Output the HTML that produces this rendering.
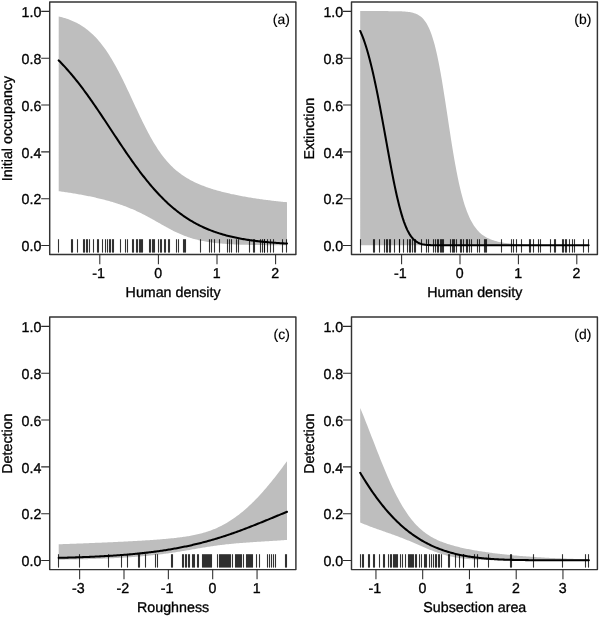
<!DOCTYPE html>
<html><head><meta charset="utf-8"><title>Figure</title>
<style>
html,body{margin:0;padding:0;background:#fff;}
svg{display:block;}
text{font-family:"Liberation Sans",Arial,Helvetica,sans-serif;fill:#000;stroke:#000;stroke-width:0.32px;text-rendering:geometricPrecision;}
svg{will-change:transform;}
</style></head>
<body>
<svg width="600" height="617" viewBox="0 0 600 617">
<rect width="600" height="617" fill="#fff"/>
<path d="M58.70 16.41 L59.85 16.69 L60.99 16.99 L62.14 17.30 L63.29 17.63 L64.44 17.97 L65.58 18.33 L66.73 18.71 L67.88 19.11 L69.03 19.53 L70.17 19.96 L71.32 20.43 L72.47 20.91 L73.61 21.42 L74.76 21.95 L75.91 22.51 L77.06 23.09 L78.20 23.71 L79.35 24.35 L80.50 25.02 L81.64 25.73 L82.79 26.47 L83.94 27.24 L85.09 28.05 L86.23 28.89 L87.38 29.77 L88.53 30.69 L89.68 31.65 L90.82 32.65 L91.97 33.69 L93.12 34.78 L94.26 35.91 L95.41 37.09 L96.56 38.31 L97.71 39.58 L98.85 40.90 L100.00 42.27 L101.15 43.69 L102.29 45.16 L103.44 46.68 L104.59 48.25 L105.74 49.87 L106.88 51.55 L108.03 53.27 L109.18 55.05 L110.33 56.88 L111.47 58.76 L112.62 60.69 L113.77 62.67 L114.91 64.70 L116.06 66.78 L117.21 68.90 L118.36 71.06 L119.50 73.26 L120.65 75.51 L121.80 77.79 L122.95 80.10 L124.09 82.45 L125.24 84.82 L126.39 87.22 L127.53 89.64 L128.68 92.08 L129.83 94.53 L130.98 97.00 L132.12 99.47 L133.27 101.94 L134.42 104.42 L135.56 106.89 L136.71 109.35 L137.86 111.80 L139.01 114.24 L140.15 116.65 L141.30 119.04 L142.45 121.40 L143.60 123.74 L144.74 126.04 L145.89 128.30 L147.04 130.52 L148.18 132.70 L149.33 134.84 L150.48 136.93 L151.63 138.97 L152.77 140.96 L153.92 142.90 L155.07 144.79 L156.22 146.62 L157.36 148.40 L158.51 150.13 L159.66 151.80 L160.80 153.42 L161.95 154.99 L163.10 156.50 L164.25 157.96 L165.39 159.37 L166.54 160.73 L167.69 162.04 L168.83 163.30 L169.98 164.51 L171.13 165.68 L172.28 166.81 L173.42 167.90 L174.57 168.94 L175.72 169.95 L176.87 170.92 L178.01 171.85 L179.16 172.75 L180.31 173.61 L181.45 174.44 L182.60 175.25 L183.75 176.02 L184.90 176.77 L186.04 177.49 L187.19 178.18 L188.34 178.86 L189.48 179.51 L190.63 180.13 L191.78 180.74 L192.93 181.33 L194.07 181.90 L195.22 182.45 L196.37 182.98 L197.52 183.50 L198.66 184.00 L199.81 184.49 L200.96 184.96 L202.10 185.42 L203.25 185.87 L204.40 186.31 L205.55 186.73 L206.69 187.14 L207.84 187.54 L208.99 187.93 L210.14 188.32 L211.28 188.69 L212.43 189.05 L213.58 189.40 L214.72 189.75 L215.87 190.09 L217.02 190.42 L218.17 190.74 L219.31 191.06 L220.46 191.37 L221.61 191.67 L222.75 191.96 L223.90 192.25 L225.05 192.54 L226.20 192.82 L227.34 193.09 L228.49 193.36 L229.64 193.62 L230.79 193.88 L231.93 194.13 L233.08 194.37 L234.23 194.62 L235.37 194.86 L236.52 195.09 L237.67 195.32 L238.82 195.54 L239.96 195.77 L241.11 195.98 L242.26 196.20 L243.41 196.41 L244.55 196.61 L245.70 196.82 L246.85 197.02 L247.99 197.21 L249.14 197.41 L250.29 197.59 L251.44 197.78 L252.58 197.96 L253.73 198.14 L254.88 198.32 L256.02 198.49 L257.17 198.67 L258.32 198.83 L259.47 199.00 L260.61 199.16 L261.76 199.32 L262.91 199.48 L264.06 199.63 L265.20 199.79 L266.35 199.93 L267.50 200.08 L268.64 200.23 L269.79 200.37 L270.94 200.51 L272.09 200.64 L273.23 200.78 L274.38 200.91 L275.53 201.04 L276.67 201.17 L277.82 201.29 L278.97 201.41 L280.12 201.53 L281.26 201.65 L282.41 201.77 L283.56 201.88 L284.71 201.99 L285.85 202.10 L287.00 202.21 L287.00 245.25 L285.85 245.24 L284.71 245.24 L283.56 245.24 L282.41 245.23 L281.26 245.23 L280.12 245.22 L278.97 245.22 L277.82 245.21 L276.67 245.21 L275.53 245.20 L274.38 245.19 L273.23 245.19 L272.09 245.18 L270.94 245.17 L269.79 245.16 L268.64 245.15 L267.50 245.14 L266.35 245.13 L265.20 245.12 L264.06 245.11 L262.91 245.10 L261.76 245.09 L260.61 245.07 L259.47 245.06 L258.32 245.04 L257.17 245.03 L256.02 245.01 L254.88 244.99 L253.73 244.97 L252.58 244.95 L251.44 244.93 L250.29 244.91 L249.14 244.88 L247.99 244.86 L246.85 244.83 L245.70 244.80 L244.55 244.77 L243.41 244.74 L242.26 244.70 L241.11 244.66 L239.96 244.63 L238.82 244.58 L237.67 244.54 L236.52 244.49 L235.37 244.44 L234.23 244.39 L233.08 244.34 L231.93 244.28 L230.79 244.22 L229.64 244.15 L228.49 244.08 L227.34 244.01 L226.20 243.93 L225.05 243.85 L223.90 243.76 L222.75 243.67 L221.61 243.58 L220.46 243.47 L219.31 243.37 L218.17 243.25 L217.02 243.14 L215.87 243.01 L214.72 242.88 L213.58 242.74 L212.43 242.59 L211.28 242.44 L210.14 242.27 L208.99 242.10 L207.84 241.92 L206.69 241.73 L205.55 241.54 L204.40 241.33 L203.25 241.11 L202.10 240.88 L200.96 240.64 L199.81 240.39 L198.66 240.13 L197.52 239.85 L196.37 239.57 L195.22 239.27 L194.07 238.95 L192.93 238.63 L191.78 238.29 L190.63 237.93 L189.48 237.56 L188.34 237.18 L187.19 236.78 L186.04 236.37 L184.90 235.94 L183.75 235.50 L182.60 235.04 L181.45 234.57 L180.31 234.09 L179.16 233.59 L178.01 233.07 L176.87 232.54 L175.72 232.00 L174.57 231.44 L173.42 230.88 L172.28 230.30 L171.13 229.70 L169.98 229.10 L168.83 228.49 L167.69 227.87 L166.54 227.24 L165.39 226.60 L164.25 225.96 L163.10 225.31 L161.95 224.66 L160.80 224.01 L159.66 223.35 L158.51 222.69 L157.36 222.04 L156.22 221.38 L155.07 220.73 L153.92 220.08 L152.77 219.43 L151.63 218.79 L150.48 218.15 L149.33 217.52 L148.18 216.90 L147.04 216.28 L145.89 215.67 L144.74 215.07 L143.60 214.48 L142.45 213.90 L141.30 213.33 L140.15 212.77 L139.01 212.22 L137.86 211.67 L136.71 211.14 L135.56 210.62 L134.42 210.11 L133.27 209.60 L132.12 209.11 L130.98 208.63 L129.83 208.16 L128.68 207.69 L127.53 207.24 L126.39 206.79 L125.24 206.36 L124.09 205.93 L122.95 205.51 L121.80 205.10 L120.65 204.70 L119.50 204.31 L118.36 203.92 L117.21 203.55 L116.06 203.18 L114.91 202.82 L113.77 202.46 L112.62 202.11 L111.47 201.77 L110.33 201.44 L109.18 201.11 L108.03 200.79 L106.88 200.47 L105.74 200.16 L104.59 199.86 L103.44 199.56 L102.29 199.26 L101.15 198.98 L100.00 198.69 L98.85 198.42 L97.71 198.15 L96.56 197.88 L95.41 197.62 L94.26 197.36 L93.12 197.10 L91.97 196.86 L90.82 196.61 L89.68 196.37 L88.53 196.13 L87.38 195.90 L86.23 195.67 L85.09 195.45 L83.94 195.23 L82.79 195.01 L81.64 194.80 L80.50 194.59 L79.35 194.38 L78.20 194.18 L77.06 193.98 L75.91 193.78 L74.76 193.59 L73.61 193.40 L72.47 193.21 L71.32 193.03 L70.17 192.84 L69.03 192.67 L67.88 192.49 L66.73 192.32 L65.58 192.15 L64.44 191.98 L63.29 191.82 L62.14 191.65 L60.99 191.49 L59.85 191.34 L58.70 191.18 Z" fill="#bebebe"/>
<g fill="none" stroke="#000" stroke-opacity="0.8" stroke-width="1.1"><path d="M58.5 239.2V252.6"/><path d="M71.5 239.2V252.6"/><path d="M72.5 239.2V252.6"/><path d="M77.5 239.2V252.6"/><path d="M83.5 239.2V252.6"/><path d="M84.5 239.2V252.6"/><path d="M86.5 239.2V252.6"/><path d="M87.5 239.2V252.6"/><path d="M89.5 239.2V252.6"/><path d="M93.5 239.2V252.6"/><path d="M97.5 239.2V252.6"/><path d="M98.5 239.2V252.6"/><path d="M102.5 239.2V252.6"/><path d="M105.5 239.2V252.6"/><path d="M107.5 239.2V252.6"/><path d="M109.5 239.2V252.6"/><path d="M110.5 239.2V252.6"/><path d="M112.5 239.2V252.6"/><path d="M113.5 239.2V252.6"/><path d="M120.5 239.2V252.6"/><path d="M125.5 239.2V252.6"/><path d="M127.5 239.2V252.6"/><path d="M132.5 239.2V252.6"/><path d="M133.5 239.2V252.6"/><path d="M136.5 239.2V252.6"/><path d="M137.5 239.2V252.6"/><path d="M139.5 239.2V252.6"/><path d="M140.5 239.2V252.6"/><path d="M141.5 239.2V252.6"/><path d="M142.5 239.2V252.6"/><path d="M149.5 239.2V252.6"/><path d="M150.5 239.2V252.6"/><path d="M152.5 239.2V252.6"/><path d="M153.5 239.2V252.6"/><path d="M154.5 239.2V252.6"/><path d="M158.5 239.2V252.6"/><path d="M160.5 239.2V252.6"/><path d="M161.5 239.2V252.6"/><path d="M164.5 239.2V252.6"/><path d="M165.5 239.2V252.6"/><path d="M168.5 239.2V252.6"/><path d="M169.5 239.2V252.6"/><path d="M176.5 239.2V252.6"/><path d="M178.5 239.2V252.6"/><path d="M183.5 239.2V252.6"/><path d="M184.5 239.2V252.6"/><path d="M185.5 239.2V252.6"/><path d="M200.5 239.2V252.6"/><path d="M209.5 239.2V252.6"/><path d="M211.5 239.2V252.6"/><path d="M214.5 239.2V252.6"/><path d="M219.5 239.2V252.6"/><path d="M227.5 239.2V252.6"/><path d="M229.5 239.2V252.6"/><path d="M231.5 239.2V252.6"/><path d="M236.5 239.2V252.6"/><path d="M238.5 239.2V252.6"/><path d="M249.5 239.2V252.6"/><path d="M253.5 239.2V252.6"/><path d="M254.5 239.2V252.6"/><path d="M260.5 239.2V252.6"/><path d="M262.5 239.2V252.6"/><path d="M264.5 239.2V252.6"/><path d="M264.5 239.2V252.6"/><path d="M267.5 239.2V252.6"/><path d="M270.5 239.2V252.6"/><path d="M273.5 239.2V252.6"/><path d="M282.5 239.2V252.6"/><path d="M286.5 239.2V252.6"/></g>
<path d="M58.70 60.42 L59.85 61.58 L60.99 62.76 L62.14 63.96 L63.29 65.17 L64.44 66.41 L65.58 67.67 L66.73 68.94 L67.88 70.23 L69.03 71.55 L70.17 72.88 L71.32 74.23 L72.47 75.60 L73.61 76.99 L74.76 78.39 L75.91 79.82 L77.06 81.26 L78.20 82.72 L79.35 84.20 L80.50 85.69 L81.64 87.20 L82.79 88.72 L83.94 90.26 L85.09 91.82 L86.23 93.39 L87.38 94.97 L88.53 96.57 L89.68 98.18 L90.82 99.80 L91.97 101.44 L93.12 103.09 L94.26 104.74 L95.41 106.41 L96.56 108.09 L97.71 109.78 L98.85 111.47 L100.00 113.18 L101.15 114.89 L102.29 116.60 L103.44 118.32 L104.59 120.05 L105.74 121.78 L106.88 123.52 L108.03 125.25 L109.18 126.99 L110.33 128.73 L111.47 130.47 L112.62 132.21 L113.77 133.95 L114.91 135.69 L116.06 137.43 L117.21 139.16 L118.36 140.88 L119.50 142.61 L120.65 144.32 L121.80 146.04 L122.95 147.74 L124.09 149.44 L125.24 151.12 L126.39 152.80 L127.53 154.47 L128.68 156.13 L129.83 157.78 L130.98 159.42 L132.12 161.04 L133.27 162.65 L134.42 164.25 L135.56 165.84 L136.71 167.41 L137.86 168.96 L139.01 170.50 L140.15 172.03 L141.30 173.54 L142.45 175.03 L143.60 176.50 L144.74 177.96 L145.89 179.40 L147.04 180.82 L148.18 182.23 L149.33 183.61 L150.48 184.98 L151.63 186.33 L152.77 187.66 L153.92 188.96 L155.07 190.25 L156.22 191.52 L157.36 192.77 L158.51 194.00 L159.66 195.22 L160.80 196.41 L161.95 197.58 L163.10 198.73 L164.25 199.86 L165.39 200.97 L166.54 202.06 L167.69 203.13 L168.83 204.18 L169.98 205.21 L171.13 206.22 L172.28 207.21 L173.42 208.18 L174.57 209.13 L175.72 210.07 L176.87 210.98 L178.01 211.87 L179.16 212.75 L180.31 213.61 L181.45 214.45 L182.60 215.27 L183.75 216.07 L184.90 216.86 L186.04 217.62 L187.19 218.37 L188.34 219.11 L189.48 219.82 L190.63 220.52 L191.78 221.21 L192.93 221.88 L194.07 222.53 L195.22 223.16 L196.37 223.79 L197.52 224.39 L198.66 224.98 L199.81 225.56 L200.96 226.12 L202.10 226.67 L203.25 227.20 L204.40 227.72 L205.55 228.23 L206.69 228.73 L207.84 229.21 L208.99 229.68 L210.14 230.13 L211.28 230.58 L212.43 231.01 L213.58 231.43 L214.72 231.84 L215.87 232.24 L217.02 232.63 L218.17 233.01 L219.31 233.38 L220.46 233.74 L221.61 234.09 L222.75 234.43 L223.90 234.76 L225.05 235.08 L226.20 235.39 L227.34 235.69 L228.49 235.98 L229.64 236.27 L230.79 236.55 L231.93 236.82 L233.08 237.08 L234.23 237.33 L235.37 237.58 L236.52 237.82 L237.67 238.05 L238.82 238.28 L239.96 238.50 L241.11 238.72 L242.26 238.92 L243.41 239.12 L244.55 239.32 L245.70 239.51 L246.85 239.69 L247.99 239.87 L249.14 240.04 L250.29 240.21 L251.44 240.37 L252.58 240.53 L253.73 240.69 L254.88 240.83 L256.02 240.98 L257.17 241.12 L258.32 241.25 L259.47 241.39 L260.61 241.51 L261.76 241.64 L262.91 241.76 L264.06 241.87 L265.20 241.98 L266.35 242.09 L267.50 242.20 L268.64 242.30 L269.79 242.40 L270.94 242.50 L272.09 242.59 L273.23 242.68 L274.38 242.77 L275.53 242.85 L276.67 242.93 L277.82 243.01 L278.97 243.09 L280.12 243.16 L281.26 243.24 L282.41 243.31 L283.56 243.37 L284.71 243.44 L285.85 243.50 L287.00 243.56" fill="none" stroke="#000" stroke-width="2.05" stroke-linejoin="round" stroke-linecap="round"/>
<rect x="49.70" y="1.95" width="246.20" height="252.65" fill="none" stroke="#333" stroke-width="1.45" stroke-linejoin="round"/>
<text x="41.4" y="251.2" text-anchor="end" font-size="14.3" textLength="19.8" lengthAdjust="spacingAndGlyphs">0.0</text>
<text x="41.4" y="204.3" text-anchor="end" font-size="14.3" textLength="19.8" lengthAdjust="spacingAndGlyphs">0.2</text>
<text x="41.4" y="157.5" text-anchor="end" font-size="14.3" textLength="19.8" lengthAdjust="spacingAndGlyphs">0.4</text>
<text x="41.4" y="110.6" text-anchor="end" font-size="14.3" textLength="19.8" lengthAdjust="spacingAndGlyphs">0.6</text>
<text x="41.4" y="63.8" text-anchor="end" font-size="14.3" textLength="19.8" lengthAdjust="spacingAndGlyphs">0.8</text>
<text x="41.4" y="17.0" text-anchor="end" font-size="14.3" textLength="19.8" lengthAdjust="spacingAndGlyphs">1.0</text>
<text x="98.6" y="277.7" text-anchor="middle" font-size="14.3" textLength="12.7" lengthAdjust="spacingAndGlyphs">-1</text>
<text x="158.1" y="277.7" text-anchor="middle" font-size="14.3" textLength="7.9" lengthAdjust="spacingAndGlyphs">0</text>
<text x="216.7" y="277.7" text-anchor="middle" font-size="14.3" textLength="7.9" lengthAdjust="spacingAndGlyphs">1</text>
<text x="275.3" y="277.7" text-anchor="middle" font-size="14.3" textLength="7.9" lengthAdjust="spacingAndGlyphs">2</text>
<path d="M49.70 245.57H41.20M49.70 198.73H41.20M49.70 151.89H41.20M49.70 105.05H41.20M49.70 58.21H41.20M49.70 11.37H41.20M99.80 254.60V264.20M158.40 254.60V264.20M217.00 254.60V264.20M275.60 254.60V264.20" fill="none" stroke="#2b2b2b" stroke-width="1.05"/>
<text x="173.1" y="297.2" text-anchor="middle" font-size="14.3" textLength="95.0" lengthAdjust="spacingAndGlyphs">Human density</text>
<text x="11.8" y="128.6" text-anchor="middle" font-size="14.3" textLength="105.3" lengthAdjust="spacingAndGlyphs" transform="rotate(-90 11.8 128.6)">Initial occupancy</text>
<text x="289.8" y="23.6" text-anchor="end" font-size="13.9" style="stroke-width:0.15px" textLength="17.0" lengthAdjust="spacingAndGlyphs">(a)</text>
<path d="M360.20 11.10 L361.35 11.10 L362.50 11.10 L363.64 11.10 L364.79 11.10 L365.94 11.10 L367.09 11.10 L368.23 11.10 L369.38 11.10 L370.53 11.10 L371.68 11.10 L372.83 11.10 L373.97 11.10 L375.12 11.10 L376.27 11.10 L377.42 11.10 L378.56 11.10 L379.71 11.10 L380.86 11.11 L382.01 11.11 L383.15 11.11 L384.30 11.11 L385.45 11.11 L386.60 11.12 L387.75 11.12 L388.89 11.13 L390.04 11.13 L391.19 11.14 L392.34 11.15 L393.48 11.16 L394.63 11.18 L395.78 11.19 L396.93 11.22 L398.08 11.24 L399.22 11.27 L400.37 11.31 L401.52 11.36 L402.67 11.41 L403.81 11.48 L404.96 11.56 L406.11 11.66 L407.26 11.78 L408.41 11.92 L409.55 12.08 L410.70 12.28 L411.85 12.52 L413.00 12.80 L414.14 13.14 L415.29 13.53 L416.44 14.00 L417.59 14.55 L418.73 15.19 L419.88 15.95 L421.03 16.83 L422.18 17.86 L423.33 19.05 L424.47 20.43 L425.62 22.01 L426.77 23.84 L427.92 25.92 L429.06 28.30 L430.21 30.98 L431.36 34.01 L432.51 37.40 L433.66 41.18 L434.80 45.37 L435.95 49.97 L437.10 54.99 L438.25 60.42 L439.39 66.27 L440.54 72.50 L441.69 79.08 L442.84 85.97 L443.98 93.13 L445.13 100.50 L446.28 108.00 L447.43 115.59 L448.58 123.18 L449.72 130.72 L450.87 138.14 L452.02 145.38 L453.17 152.40 L454.31 159.15 L455.46 165.60 L456.61 171.73 L457.76 177.51 L458.91 182.94 L460.05 188.02 L461.20 192.74 L462.35 197.12 L463.50 201.17 L464.64 204.90 L465.79 208.34 L466.94 211.48 L468.09 214.36 L469.24 217.00 L470.38 219.41 L471.53 221.60 L472.68 223.60 L473.83 225.43 L474.97 227.09 L476.12 228.60 L477.27 229.98 L478.42 231.24 L479.56 232.38 L480.71 233.43 L481.86 234.38 L483.01 235.24 L484.16 236.04 L485.30 236.76 L486.45 237.42 L487.60 238.02 L488.75 238.58 L489.89 239.08 L491.04 239.55 L492.19 239.97 L493.34 240.37 L494.49 240.73 L495.63 241.06 L496.78 241.36 L497.93 241.64 L499.08 241.90 L500.22 242.14 L501.37 242.36 L502.52 242.56 L503.67 242.75 L504.82 242.92 L505.96 243.09 L507.11 243.24 L508.26 243.37 L509.41 243.50 L510.55 243.62 L511.70 243.74 L512.85 243.84 L514.00 243.94 L515.14 244.03 L516.29 244.11 L517.44 244.19 L518.59 244.26 L519.74 244.33 L520.88 244.39 L522.03 244.45 L523.18 244.51 L524.33 244.56 L525.47 244.61 L526.62 244.65 L527.77 244.70 L528.92 244.74 L530.07 244.77 L531.21 244.81 L532.36 244.84 L533.51 244.87 L534.66 244.90 L535.80 244.93 L536.95 244.95 L538.10 244.98 L539.25 245.00 L540.39 245.02 L541.54 245.04 L542.69 245.06 L543.84 245.07 L544.99 245.09 L546.13 245.11 L547.28 245.12 L548.43 245.13 L549.58 245.14 L550.72 245.16 L551.87 245.17 L553.02 245.18 L554.17 245.19 L555.32 245.19 L556.46 245.20 L557.61 245.21 L558.76 245.22 L559.91 245.22 L561.05 245.23 L562.20 245.24 L563.35 245.24 L564.50 245.25 L565.65 245.25 L566.79 245.25 L567.94 245.26 L569.09 245.26 L570.24 245.26 L571.38 245.27 L572.53 245.27 L573.68 245.27 L574.83 245.28 L575.97 245.28 L577.12 245.28 L578.27 245.28 L579.42 245.28 L580.57 245.29 L581.71 245.29 L582.86 245.29 L584.01 245.29 L585.16 245.29 L586.30 245.29 L587.45 245.29 L588.60 245.29 L588.60 245.30 L587.45 245.30 L586.30 245.30 L585.16 245.30 L584.01 245.30 L582.86 245.30 L581.71 245.30 L580.57 245.30 L579.42 245.30 L578.27 245.30 L577.12 245.30 L575.97 245.30 L574.83 245.30 L573.68 245.30 L572.53 245.30 L571.38 245.30 L570.24 245.30 L569.09 245.30 L567.94 245.30 L566.79 245.30 L565.65 245.30 L564.50 245.30 L563.35 245.30 L562.20 245.30 L561.05 245.30 L559.91 245.30 L558.76 245.30 L557.61 245.30 L556.46 245.30 L555.32 245.30 L554.17 245.30 L553.02 245.30 L551.87 245.30 L550.72 245.30 L549.58 245.30 L548.43 245.30 L547.28 245.30 L546.13 245.30 L544.99 245.30 L543.84 245.30 L542.69 245.30 L541.54 245.30 L540.39 245.30 L539.25 245.30 L538.10 245.30 L536.95 245.30 L535.80 245.30 L534.66 245.30 L533.51 245.30 L532.36 245.30 L531.21 245.30 L530.07 245.30 L528.92 245.30 L527.77 245.30 L526.62 245.30 L525.47 245.30 L524.33 245.30 L523.18 245.30 L522.03 245.30 L520.88 245.30 L519.74 245.30 L518.59 245.30 L517.44 245.30 L516.29 245.30 L515.14 245.30 L514.00 245.30 L512.85 245.30 L511.70 245.30 L510.55 245.30 L509.41 245.30 L508.26 245.30 L507.11 245.30 L505.96 245.30 L504.82 245.30 L503.67 245.30 L502.52 245.30 L501.37 245.30 L500.22 245.30 L499.08 245.30 L497.93 245.30 L496.78 245.30 L495.63 245.30 L494.49 245.30 L493.34 245.30 L492.19 245.30 L491.04 245.30 L489.89 245.30 L488.75 245.30 L487.60 245.30 L486.45 245.30 L485.30 245.30 L484.16 245.30 L483.01 245.30 L481.86 245.30 L480.71 245.30 L479.56 245.30 L478.42 245.30 L477.27 245.30 L476.12 245.30 L474.97 245.30 L473.83 245.30 L472.68 245.30 L471.53 245.30 L470.38 245.30 L469.24 245.30 L468.09 245.30 L466.94 245.30 L465.79 245.30 L464.64 245.30 L463.50 245.30 L462.35 245.30 L461.20 245.30 L460.05 245.30 L458.91 245.30 L457.76 245.30 L456.61 245.30 L455.46 245.30 L454.31 245.30 L453.17 245.30 L452.02 245.30 L450.87 245.30 L449.72 245.30 L448.58 245.30 L447.43 245.30 L446.28 245.30 L445.13 245.30 L443.98 245.30 L442.84 245.30 L441.69 245.30 L440.54 245.30 L439.39 245.30 L438.25 245.30 L437.10 245.30 L435.95 245.30 L434.80 245.30 L433.66 245.30 L432.51 245.30 L431.36 245.30 L430.21 245.30 L429.06 245.30 L427.92 245.30 L426.77 245.30 L425.62 245.30 L424.47 245.30 L423.33 245.30 L422.18 245.30 L421.03 245.30 L419.88 245.30 L418.73 245.30 L417.59 245.30 L416.44 245.30 L415.29 245.30 L414.14 245.30 L413.00 245.30 L411.85 245.29 L410.70 245.29 L409.55 245.29 L408.41 245.29 L407.26 245.29 L406.11 245.29 L404.96 245.29 L403.81 245.29 L402.67 245.29 L401.52 245.29 L400.37 245.29 L399.22 245.29 L398.08 245.29 L396.93 245.29 L395.78 245.29 L394.63 245.29 L393.48 245.29 L392.34 245.29 L391.19 245.29 L390.04 245.28 L388.89 245.28 L387.75 245.28 L386.60 245.28 L385.45 245.28 L384.30 245.28 L383.15 245.28 L382.01 245.28 L380.86 245.28 L379.71 245.28 L378.56 245.28 L377.42 245.27 L376.27 245.27 L375.12 245.27 L373.97 245.27 L372.83 245.27 L371.68 245.27 L370.53 245.27 L369.38 245.27 L368.23 245.26 L367.09 245.26 L365.94 245.26 L364.79 245.26 L363.64 245.26 L362.50 245.26 L361.35 245.26 L360.20 245.25 Z" fill="#bebebe"/>
<g fill="none" stroke="#000" stroke-opacity="0.8" stroke-width="1.1"><path d="M360.5 239.2V252.6"/><path d="M373.5 239.2V252.6"/><path d="M374.5 239.2V252.6"/><path d="M379.5 239.2V252.6"/><path d="M384.5 239.2V252.6"/><path d="M386.5 239.2V252.6"/><path d="M387.5 239.2V252.6"/><path d="M389.5 239.2V252.6"/><path d="M390.5 239.2V252.6"/><path d="M394.5 239.2V252.6"/><path d="M399.5 239.2V252.6"/><path d="M399.5 239.2V252.6"/><path d="M403.5 239.2V252.6"/><path d="M407.5 239.2V252.6"/><path d="M409.5 239.2V252.6"/><path d="M410.5 239.2V252.6"/><path d="M412.5 239.2V252.6"/><path d="M414.5 239.2V252.6"/><path d="M415.5 239.2V252.6"/><path d="M421.5 239.2V252.6"/><path d="M426.5 239.2V252.6"/><path d="M428.5 239.2V252.6"/><path d="M433.5 239.2V252.6"/><path d="M435.5 239.2V252.6"/><path d="M437.5 239.2V252.6"/><path d="M438.5 239.2V252.6"/><path d="M440.5 239.2V252.6"/><path d="M441.5 239.2V252.6"/><path d="M442.5 239.2V252.6"/><path d="M443.5 239.2V252.6"/><path d="M450.5 239.2V252.6"/><path d="M452.5 239.2V252.6"/><path d="M453.5 239.2V252.6"/><path d="M454.5 239.2V252.6"/><path d="M456.5 239.2V252.6"/><path d="M460.5 239.2V252.6"/><path d="M461.5 239.2V252.6"/><path d="M463.5 239.2V252.6"/><path d="M466.5 239.2V252.6"/><path d="M467.5 239.2V252.6"/><path d="M469.5 239.2V252.6"/><path d="M471.5 239.2V252.6"/><path d="M477.5 239.2V252.6"/><path d="M479.5 239.2V252.6"/><path d="M484.5 239.2V252.6"/><path d="M485.5 239.2V252.6"/><path d="M486.5 239.2V252.6"/><path d="M501.5 239.2V252.6"/><path d="M511.5 239.2V252.6"/><path d="M513.5 239.2V252.6"/><path d="M516.5 239.2V252.6"/><path d="M521.5 239.2V252.6"/><path d="M529.5 239.2V252.6"/><path d="M530.5 239.2V252.6"/><path d="M533.5 239.2V252.6"/><path d="M538.5 239.2V252.6"/><path d="M540.5 239.2V252.6"/><path d="M550.5 239.2V252.6"/><path d="M554.5 239.2V252.6"/><path d="M555.5 239.2V252.6"/><path d="M562.5 239.2V252.6"/><path d="M563.5 239.2V252.6"/><path d="M565.5 239.2V252.6"/><path d="M566.5 239.2V252.6"/><path d="M569.5 239.2V252.6"/><path d="M572.5 239.2V252.6"/><path d="M574.5 239.2V252.6"/><path d="M583.5 239.2V252.6"/><path d="M588.5 239.2V252.6"/></g>
<path d="M360.20 30.96 L361.35 33.56 L362.50 36.39 L363.64 39.45 L364.79 42.74 L365.94 46.26 L367.09 50.02 L368.23 54.01 L369.38 58.24 L370.53 62.69 L371.68 67.37 L372.83 72.26 L373.97 77.36 L375.12 82.66 L376.27 88.14 L377.42 93.79 L378.56 99.60 L379.71 105.56 L380.86 111.63 L382.01 117.82 L383.15 124.08 L384.30 130.41 L385.45 136.77 L386.60 143.13 L387.75 149.48 L388.89 155.79 L390.04 162.02 L391.19 168.14 L392.34 174.13 L393.48 179.95 L394.63 185.59 L395.78 191.01 L396.93 196.19 L398.08 201.10 L399.22 205.74 L400.37 210.09 L401.52 214.14 L402.67 217.89 L403.81 221.32 L404.96 224.46 L406.11 227.29 L407.26 229.84 L408.41 232.11 L409.55 234.12 L410.70 235.89 L411.85 237.43 L413.00 238.76 L414.14 239.90 L415.29 240.88 L416.44 241.70 L417.59 242.39 L418.73 242.97 L419.88 243.45 L421.03 243.84 L422.18 244.15 L423.33 244.41 L424.47 244.61 L425.62 244.77 L426.77 244.90 L427.92 245.00 L429.06 245.08 L430.21 245.14 L431.36 245.18 L432.51 245.21 L433.66 245.24 L434.80 245.26 L435.95 245.27 L437.10 245.28 L438.25 245.28 L439.39 245.29 L440.54 245.29 L441.69 245.30 L442.84 245.30 L443.98 245.30 L445.13 245.30 L446.28 245.30 L447.43 245.30 L448.58 245.30 L449.72 245.30 L450.87 245.30 L452.02 245.30 L453.17 245.30 L454.31 245.30 L455.46 245.30 L456.61 245.30 L457.76 245.30 L458.91 245.30 L460.05 245.30 L461.20 245.30 L462.35 245.30 L463.50 245.30 L464.64 245.30 L465.79 245.30 L466.94 245.30 L468.09 245.30 L469.24 245.30 L470.38 245.30 L471.53 245.30 L472.68 245.30 L473.83 245.30 L474.97 245.30 L476.12 245.30 L477.27 245.30 L478.42 245.30 L479.56 245.30 L480.71 245.30 L481.86 245.30 L483.01 245.30 L484.16 245.30 L485.30 245.30 L486.45 245.30 L487.60 245.30 L488.75 245.30 L489.89 245.30 L491.04 245.30 L492.19 245.30 L493.34 245.30 L494.49 245.30 L495.63 245.30 L496.78 245.30 L497.93 245.30 L499.08 245.30 L500.22 245.30 L501.37 245.30 L502.52 245.30 L503.67 245.30 L504.82 245.30 L505.96 245.30 L507.11 245.30 L508.26 245.30 L509.41 245.30 L510.55 245.30 L511.70 245.30 L512.85 245.30 L514.00 245.30 L515.14 245.30 L516.29 245.30 L517.44 245.30 L518.59 245.30 L519.74 245.30 L520.88 245.30 L522.03 245.30 L523.18 245.30 L524.33 245.30 L525.47 245.30 L526.62 245.30 L527.77 245.30 L528.92 245.30 L530.07 245.30 L531.21 245.30 L532.36 245.30 L533.51 245.30 L534.66 245.30 L535.80 245.30 L536.95 245.30 L538.10 245.30 L539.25 245.30 L540.39 245.30 L541.54 245.30 L542.69 245.30 L543.84 245.30 L544.99 245.30 L546.13 245.30 L547.28 245.30 L548.43 245.30 L549.58 245.30 L550.72 245.30 L551.87 245.30 L553.02 245.30 L554.17 245.30 L555.32 245.30 L556.46 245.30 L557.61 245.30 L558.76 245.30 L559.91 245.30 L561.05 245.30 L562.20 245.30 L563.35 245.30 L564.50 245.30 L565.65 245.30 L566.79 245.30 L567.94 245.30 L569.09 245.30 L570.24 245.30 L571.38 245.30 L572.53 245.30 L573.68 245.30 L574.83 245.30 L575.97 245.30 L577.12 245.30 L578.27 245.30 L579.42 245.30 L580.57 245.30 L581.71 245.30 L582.86 245.30 L584.01 245.30 L585.16 245.30 L586.30 245.30 L587.45 245.30 L588.60 245.30" fill="none" stroke="#000" stroke-width="2.05" stroke-linejoin="round" stroke-linecap="round"/>
<rect x="351.50" y="1.95" width="245.90" height="252.65" fill="none" stroke="#333" stroke-width="1.45" stroke-linejoin="round"/>
<text x="343.2" y="251.2" text-anchor="end" font-size="14.3" textLength="19.8" lengthAdjust="spacingAndGlyphs">0.0</text>
<text x="343.2" y="204.3" text-anchor="end" font-size="14.3" textLength="19.8" lengthAdjust="spacingAndGlyphs">0.2</text>
<text x="343.2" y="157.5" text-anchor="end" font-size="14.3" textLength="19.8" lengthAdjust="spacingAndGlyphs">0.4</text>
<text x="343.2" y="110.6" text-anchor="end" font-size="14.3" textLength="19.8" lengthAdjust="spacingAndGlyphs">0.6</text>
<text x="343.2" y="63.8" text-anchor="end" font-size="14.3" textLength="19.8" lengthAdjust="spacingAndGlyphs">0.8</text>
<text x="343.2" y="17.0" text-anchor="end" font-size="14.3" textLength="19.8" lengthAdjust="spacingAndGlyphs">1.0</text>
<text x="400.4" y="277.7" text-anchor="middle" font-size="14.3" textLength="12.7" lengthAdjust="spacingAndGlyphs">-1</text>
<text x="459.7" y="277.7" text-anchor="middle" font-size="14.3" textLength="7.9" lengthAdjust="spacingAndGlyphs">0</text>
<text x="518.1" y="277.7" text-anchor="middle" font-size="14.3" textLength="7.9" lengthAdjust="spacingAndGlyphs">1</text>
<text x="576.5" y="277.7" text-anchor="middle" font-size="14.3" textLength="7.9" lengthAdjust="spacingAndGlyphs">2</text>
<path d="M351.50 245.57H343.00M351.50 198.73H343.00M351.50 151.89H343.00M351.50 105.05H343.00M351.50 58.21H343.00M351.50 11.37H343.00M401.60 254.60V264.20M460.00 254.60V264.20M518.40 254.60V264.20M576.80 254.60V264.20" fill="none" stroke="#2b2b2b" stroke-width="1.05"/>
<text x="474.8" y="297.2" text-anchor="middle" font-size="14.3" textLength="95.0" lengthAdjust="spacingAndGlyphs">Human density</text>
<text x="313.6" y="128.6" text-anchor="middle" font-size="14.3" textLength="61.8" lengthAdjust="spacingAndGlyphs" transform="rotate(-90 313.6 128.6)">Extinction</text>
<text x="591.3" y="23.6" text-anchor="end" font-size="13.9" style="stroke-width:0.15px" textLength="17.0" lengthAdjust="spacingAndGlyphs">(b)</text>
<path d="M58.70 544.27 L59.85 544.23 L60.99 544.19 L62.14 544.15 L63.29 544.11 L64.44 544.07 L65.58 544.02 L66.73 543.98 L67.88 543.94 L69.03 543.90 L70.17 543.86 L71.32 543.81 L72.47 543.77 L73.61 543.73 L74.76 543.69 L75.91 543.64 L77.06 543.60 L78.20 543.55 L79.35 543.51 L80.50 543.47 L81.64 543.42 L82.79 543.38 L83.94 543.33 L85.09 543.29 L86.23 543.24 L87.38 543.20 L88.53 543.15 L89.68 543.11 L90.82 543.06 L91.97 543.01 L93.12 542.97 L94.26 542.92 L95.41 542.87 L96.56 542.83 L97.71 542.78 L98.85 542.73 L100.00 542.68 L101.15 542.63 L102.29 542.58 L103.44 542.53 L104.59 542.48 L105.74 542.43 L106.88 542.38 L108.03 542.33 L109.18 542.28 L110.33 542.23 L111.47 542.18 L112.62 542.13 L113.77 542.07 L114.91 542.02 L116.06 541.97 L117.21 541.91 L118.36 541.86 L119.50 541.81 L120.65 541.75 L121.80 541.69 L122.95 541.64 L124.09 541.58 L125.24 541.52 L126.39 541.47 L127.53 541.41 L128.68 541.35 L129.83 541.29 L130.98 541.23 L132.12 541.17 L133.27 541.10 L134.42 541.04 L135.56 540.98 L136.71 540.91 L137.86 540.85 L139.01 540.78 L140.15 540.72 L141.30 540.65 L142.45 540.58 L143.60 540.51 L144.74 540.44 L145.89 540.37 L147.04 540.29 L148.18 540.22 L149.33 540.14 L150.48 540.07 L151.63 539.99 L152.77 539.91 L153.92 539.83 L155.07 539.75 L156.22 539.66 L157.36 539.58 L158.51 539.49 L159.66 539.40 L160.80 539.31 L161.95 539.21 L163.10 539.12 L164.25 539.02 L165.39 538.92 L166.54 538.82 L167.69 538.71 L168.83 538.60 L169.98 538.49 L171.13 538.37 L172.28 538.26 L173.42 538.14 L174.57 538.01 L175.72 537.88 L176.87 537.75 L178.01 537.61 L179.16 537.47 L180.31 537.32 L181.45 537.17 L182.60 537.01 L183.75 536.85 L184.90 536.68 L186.04 536.51 L187.19 536.33 L188.34 536.14 L189.48 535.94 L190.63 535.74 L191.78 535.53 L192.93 535.31 L194.07 535.08 L195.22 534.84 L196.37 534.59 L197.52 534.33 L198.66 534.06 L199.81 533.78 L200.96 533.49 L202.10 533.18 L203.25 532.86 L204.40 532.53 L205.55 532.19 L206.69 531.83 L207.84 531.45 L208.99 531.06 L210.14 530.66 L211.28 530.24 L212.43 529.80 L213.58 529.35 L214.72 528.88 L215.87 528.39 L217.02 527.88 L218.17 527.36 L219.31 526.81 L220.46 526.25 L221.61 525.67 L222.75 525.07 L223.90 524.46 L225.05 523.82 L226.20 523.16 L227.34 522.49 L228.49 521.79 L229.64 521.07 L230.79 520.34 L231.93 519.58 L233.08 518.81 L234.23 518.01 L235.37 517.20 L236.52 516.36 L237.67 515.50 L238.82 514.63 L239.96 513.73 L241.11 512.81 L242.26 511.88 L243.41 510.92 L244.55 509.94 L245.70 508.95 L246.85 507.93 L247.99 506.89 L249.14 505.83 L250.29 504.76 L251.44 503.66 L252.58 502.54 L253.73 501.41 L254.88 500.25 L256.02 499.08 L257.17 497.89 L258.32 496.67 L259.47 495.44 L260.61 494.19 L261.76 492.93 L262.91 491.64 L264.06 490.34 L265.20 489.02 L266.35 487.68 L267.50 486.33 L268.64 484.96 L269.79 483.57 L270.94 482.17 L272.09 480.75 L273.23 479.32 L274.38 477.88 L275.53 476.42 L276.67 474.94 L277.82 473.45 L278.97 471.96 L280.12 470.44 L281.26 468.92 L282.41 467.39 L283.56 465.84 L284.71 464.29 L285.85 462.72 L287.00 461.15 L287.00 539.94 L285.85 540.02 L284.71 540.10 L283.56 540.18 L282.41 540.25 L281.26 540.33 L280.12 540.40 L278.97 540.48 L277.82 540.55 L276.67 540.63 L275.53 540.70 L274.38 540.77 L273.23 540.85 L272.09 540.92 L270.94 540.99 L269.79 541.06 L268.64 541.14 L267.50 541.21 L266.35 541.28 L265.20 541.35 L264.06 541.42 L262.91 541.50 L261.76 541.57 L260.61 541.64 L259.47 541.72 L258.32 541.79 L257.17 541.86 L256.02 541.94 L254.88 542.01 L253.73 542.09 L252.58 542.17 L251.44 542.24 L250.29 542.32 L249.14 542.40 L247.99 542.48 L246.85 542.56 L245.70 542.65 L244.55 542.73 L243.41 542.82 L242.26 542.90 L241.11 542.99 L239.96 543.09 L238.82 543.18 L237.67 543.28 L236.52 543.37 L235.37 543.47 L234.23 543.58 L233.08 543.68 L231.93 543.79 L230.79 543.90 L229.64 544.01 L228.49 544.13 L227.34 544.25 L226.20 544.37 L225.05 544.50 L223.90 544.63 L222.75 544.76 L221.61 544.90 L220.46 545.04 L219.31 545.19 L218.17 545.34 L217.02 545.49 L215.87 545.64 L214.72 545.80 L213.58 545.97 L212.43 546.13 L211.28 546.30 L210.14 546.48 L208.99 546.65 L207.84 546.83 L206.69 547.02 L205.55 547.20 L204.40 547.39 L203.25 547.58 L202.10 547.77 L200.96 547.97 L199.81 548.16 L198.66 548.36 L197.52 548.56 L196.37 548.76 L195.22 548.96 L194.07 549.16 L192.93 549.35 L191.78 549.55 L190.63 549.75 L189.48 549.95 L188.34 550.15 L187.19 550.35 L186.04 550.54 L184.90 550.73 L183.75 550.93 L182.60 551.12 L181.45 551.31 L180.31 551.49 L179.16 551.68 L178.01 551.86 L176.87 552.04 L175.72 552.22 L174.57 552.39 L173.42 552.56 L172.28 552.73 L171.13 552.90 L169.98 553.07 L168.83 553.23 L167.69 553.39 L166.54 553.55 L165.39 553.70 L164.25 553.85 L163.10 554.00 L161.95 554.14 L160.80 554.29 L159.66 554.43 L158.51 554.57 L157.36 554.70 L156.22 554.83 L155.07 554.96 L153.92 555.09 L152.77 555.21 L151.63 555.34 L150.48 555.46 L149.33 555.57 L148.18 555.69 L147.04 555.80 L145.89 555.91 L144.74 556.02 L143.60 556.12 L142.45 556.22 L141.30 556.32 L140.15 556.42 L139.01 556.52 L137.86 556.61 L136.71 556.70 L135.56 556.79 L134.42 556.88 L133.27 556.96 L132.12 557.05 L130.98 557.13 L129.83 557.21 L128.68 557.29 L127.53 557.36 L126.39 557.44 L125.24 557.51 L124.09 557.58 L122.95 557.65 L121.80 557.72 L120.65 557.78 L119.50 557.85 L118.36 557.91 L117.21 557.97 L116.06 558.03 L114.91 558.09 L113.77 558.15 L112.62 558.20 L111.47 558.26 L110.33 558.31 L109.18 558.36 L108.03 558.41 L106.88 558.46 L105.74 558.51 L104.59 558.56 L103.44 558.60 L102.29 558.65 L101.15 558.69 L100.00 558.73 L98.85 558.77 L97.71 558.81 L96.56 558.85 L95.41 558.89 L94.26 558.93 L93.12 558.96 L91.97 559.00 L90.82 559.03 L89.68 559.07 L88.53 559.10 L87.38 559.13 L86.23 559.16 L85.09 559.20 L83.94 559.22 L82.79 559.25 L81.64 559.28 L80.50 559.31 L79.35 559.34 L78.20 559.36 L77.06 559.39 L75.91 559.41 L74.76 559.44 L73.61 559.46 L72.47 559.48 L71.32 559.51 L70.17 559.53 L69.03 559.55 L67.88 559.57 L66.73 559.59 L65.58 559.61 L64.44 559.63 L63.29 559.65 L62.14 559.67 L60.99 559.68 L59.85 559.70 L58.70 559.72 Z" fill="#bebebe"/>
<g fill="none" stroke="#000" stroke-opacity="0.8" stroke-width="1.1"><path d="M58.5 554.2V567.6"/><path d="M79.5 554.2V567.6"/><path d="M108.5 554.2V567.6"/><path d="M121.5 554.2V567.6"/><path d="M127.5 554.2V567.6"/><path d="M138.5 554.2V567.6"/><path d="M139.5 554.2V567.6"/><path d="M145.5 554.2V567.6"/><path d="M155.5 554.2V567.6"/><path d="M157.5 554.2V567.6"/><path d="M171.5 554.2V567.6"/><path d="M172.5 554.2V567.6"/><path d="M182.5 554.2V567.6"/><path d="M183.5 554.2V567.6"/><path d="M185.5 554.2V567.6"/><path d="M186.5 554.2V567.6"/><path d="M188.5 554.2V567.6"/><path d="M189.5 554.2V567.6"/><path d="M192.5 554.2V567.6"/><path d="M193.5 554.2V567.6"/><path d="M194.5 554.2V567.6"/><path d="M197.5 554.2V567.6"/><path d="M198.5 554.2V567.6"/><path d="M202.5 554.2V567.6"/><path d="M203.5 554.2V567.6"/><path d="M204.5 554.2V567.6"/><path d="M205.5 554.2V567.6"/><path d="M206.5 554.2V567.6"/><path d="M207.5 554.2V567.6"/><path d="M208.5 554.2V567.6"/><path d="M209.5 554.2V567.6"/><path d="M210.5 554.2V567.6"/><path d="M211.5 554.2V567.6"/><path d="M217.5 554.2V567.6"/><path d="M219.5 554.2V567.6"/><path d="M220.5 554.2V567.6"/><path d="M221.5 554.2V567.6"/><path d="M222.5 554.2V567.6"/><path d="M223.5 554.2V567.6"/><path d="M224.5 554.2V567.6"/><path d="M225.5 554.2V567.6"/><path d="M226.5 554.2V567.6"/><path d="M227.5 554.2V567.6"/><path d="M228.5 554.2V567.6"/><path d="M229.5 554.2V567.6"/><path d="M230.5 554.2V567.6"/><path d="M232.5 554.2V567.6"/><path d="M235.5 554.2V567.6"/><path d="M236.5 554.2V567.6"/><path d="M237.5 554.2V567.6"/><path d="M238.5 554.2V567.6"/><path d="M239.5 554.2V567.6"/><path d="M240.5 554.2V567.6"/><path d="M241.5 554.2V567.6"/><path d="M243.5 554.2V567.6"/><path d="M246.5 554.2V567.6"/><path d="M247.5 554.2V567.6"/><path d="M248.5 554.2V567.6"/><path d="M249.5 554.2V567.6"/><path d="M250.5 554.2V567.6"/><path d="M251.5 554.2V567.6"/><path d="M252.5 554.2V567.6"/><path d="M256.5 554.2V567.6"/><path d="M259.5 554.2V567.6"/><path d="M267.5 554.2V567.6"/><path d="M269.5 554.2V567.6"/><path d="M271.5 554.2V567.6"/><path d="M273.5 554.2V567.6"/><path d="M275.5 554.2V567.6"/><path d="M285.5 554.2V567.6"/><path d="M286.5 554.2V567.6"/></g>
<path d="M58.70 557.85 L59.85 557.82 L60.99 557.80 L62.14 557.77 L63.29 557.74 L64.44 557.71 L65.58 557.68 L66.73 557.65 L67.88 557.62 L69.03 557.59 L70.17 557.55 L71.32 557.52 L72.47 557.48 L73.61 557.45 L74.76 557.41 L75.91 557.38 L77.06 557.34 L78.20 557.30 L79.35 557.26 L80.50 557.22 L81.64 557.18 L82.79 557.13 L83.94 557.09 L85.09 557.05 L86.23 557.00 L87.38 556.96 L88.53 556.91 L89.68 556.86 L90.82 556.81 L91.97 556.76 L93.12 556.71 L94.26 556.66 L95.41 556.60 L96.56 556.55 L97.71 556.49 L98.85 556.44 L100.00 556.38 L101.15 556.32 L102.29 556.26 L103.44 556.20 L104.59 556.13 L105.74 556.07 L106.88 556.00 L108.03 555.94 L109.18 555.87 L110.33 555.80 L111.47 555.72 L112.62 555.65 L113.77 555.58 L114.91 555.50 L116.06 555.42 L117.21 555.34 L118.36 555.26 L119.50 555.18 L120.65 555.10 L121.80 555.01 L122.95 554.92 L124.09 554.83 L125.24 554.74 L126.39 554.65 L127.53 554.55 L128.68 554.46 L129.83 554.36 L130.98 554.26 L132.12 554.15 L133.27 554.05 L134.42 553.94 L135.56 553.83 L136.71 553.72 L137.86 553.61 L139.01 553.49 L140.15 553.38 L141.30 553.26 L142.45 553.13 L143.60 553.01 L144.74 552.88 L145.89 552.75 L147.04 552.62 L148.18 552.48 L149.33 552.35 L150.48 552.21 L151.63 552.07 L152.77 551.92 L153.92 551.77 L155.07 551.62 L156.22 551.47 L157.36 551.31 L158.51 551.15 L159.66 550.99 L160.80 550.83 L161.95 550.66 L163.10 550.49 L164.25 550.32 L165.39 550.14 L166.54 549.96 L167.69 549.77 L168.83 549.59 L169.98 549.40 L171.13 549.21 L172.28 549.01 L173.42 548.81 L174.57 548.61 L175.72 548.40 L176.87 548.19 L178.01 547.98 L179.16 547.76 L180.31 547.54 L181.45 547.32 L182.60 547.09 L183.75 546.86 L184.90 546.62 L186.04 546.38 L187.19 546.14 L188.34 545.89 L189.48 545.64 L190.63 545.39 L191.78 545.13 L192.93 544.87 L194.07 544.60 L195.22 544.33 L196.37 544.06 L197.52 543.78 L198.66 543.50 L199.81 543.21 L200.96 542.92 L202.10 542.63 L203.25 542.33 L204.40 542.03 L205.55 541.72 L206.69 541.41 L207.84 541.10 L208.99 540.78 L210.14 540.46 L211.28 540.13 L212.43 539.80 L213.58 539.47 L214.72 539.13 L215.87 538.79 L217.02 538.44 L218.17 538.09 L219.31 537.73 L220.46 537.37 L221.61 537.01 L222.75 536.64 L223.90 536.27 L225.05 535.90 L226.20 535.52 L227.34 535.14 L228.49 534.75 L229.64 534.36 L230.79 533.97 L231.93 533.57 L233.08 533.17 L234.23 532.77 L235.37 532.36 L236.52 531.95 L237.67 531.53 L238.82 531.11 L239.96 530.69 L241.11 530.27 L242.26 529.84 L243.41 529.41 L244.55 528.98 L245.70 528.54 L246.85 528.10 L247.99 527.66 L249.14 527.21 L250.29 526.77 L251.44 526.32 L252.58 525.87 L253.73 525.41 L254.88 524.96 L256.02 524.50 L257.17 524.04 L258.32 523.57 L259.47 523.11 L260.61 522.65 L261.76 522.18 L262.91 521.71 L264.06 521.24 L265.20 520.77 L266.35 520.30 L267.50 519.83 L268.64 519.35 L269.79 518.88 L270.94 518.41 L272.09 517.93 L273.23 517.46 L274.38 516.98 L275.53 516.51 L276.67 516.04 L277.82 515.56 L278.97 515.09 L280.12 514.62 L281.26 514.15 L282.41 513.68 L283.56 513.21 L284.71 512.74 L285.85 512.27 L287.00 511.81" fill="none" stroke="#000" stroke-width="2.05" stroke-linejoin="round" stroke-linecap="round"/>
<rect x="49.70" y="316.95" width="246.20" height="252.65" fill="none" stroke="#333" stroke-width="1.45" stroke-linejoin="round"/>
<text x="41.4" y="566.2" text-anchor="end" font-size="14.3" textLength="19.8" lengthAdjust="spacingAndGlyphs">0.0</text>
<text x="41.4" y="519.3" text-anchor="end" font-size="14.3" textLength="19.8" lengthAdjust="spacingAndGlyphs">0.2</text>
<text x="41.4" y="472.5" text-anchor="end" font-size="14.3" textLength="19.8" lengthAdjust="spacingAndGlyphs">0.4</text>
<text x="41.4" y="425.6" text-anchor="end" font-size="14.3" textLength="19.8" lengthAdjust="spacingAndGlyphs">0.6</text>
<text x="41.4" y="378.8" text-anchor="end" font-size="14.3" textLength="19.8" lengthAdjust="spacingAndGlyphs">0.8</text>
<text x="41.4" y="332.0" text-anchor="end" font-size="14.3" textLength="19.8" lengthAdjust="spacingAndGlyphs">1.0</text>
<text x="78.4" y="592.7" text-anchor="middle" font-size="14.3" textLength="12.7" lengthAdjust="spacingAndGlyphs">-3</text>
<text x="122.8" y="592.7" text-anchor="middle" font-size="14.3" textLength="12.7" lengthAdjust="spacingAndGlyphs">-2</text>
<text x="167.2" y="592.7" text-anchor="middle" font-size="14.3" textLength="12.7" lengthAdjust="spacingAndGlyphs">-1</text>
<text x="212.4" y="592.7" text-anchor="middle" font-size="14.3" textLength="7.9" lengthAdjust="spacingAndGlyphs">0</text>
<text x="256.8" y="592.7" text-anchor="middle" font-size="14.3" textLength="7.9" lengthAdjust="spacingAndGlyphs">1</text>
<path d="M49.70 560.57H41.20M49.70 513.73H41.20M49.70 466.89H41.20M49.70 420.05H41.20M49.70 373.21H41.20M49.70 326.37H41.20M79.65 569.60V579.20M124.00 569.60V579.20M168.35 569.60V579.20M212.70 569.60V579.20M257.05 569.60V579.20" fill="none" stroke="#2b2b2b" stroke-width="1.05"/>
<text x="173.1" y="612.2" text-anchor="middle" font-size="14.3" textLength="72.1" lengthAdjust="spacingAndGlyphs">Roughness</text>
<text x="11.8" y="443.6" text-anchor="middle" font-size="14.3" textLength="60.2" lengthAdjust="spacingAndGlyphs" transform="rotate(-90 11.8 443.6)">Detection</text>
<text x="289.8" y="338.6" text-anchor="end" font-size="13.9" style="stroke-width:0.15px" textLength="16.2" lengthAdjust="spacingAndGlyphs">(c)</text>
<path d="M360.20 407.92 L361.35 410.70 L362.50 413.51 L363.65 416.35 L364.80 419.23 L365.95 422.13 L367.10 425.05 L368.24 427.99 L369.39 430.94 L370.54 433.91 L371.69 436.88 L372.84 439.85 L373.99 442.83 L375.14 445.79 L376.29 448.75 L377.44 451.69 L378.59 454.62 L379.74 457.53 L380.89 460.41 L382.04 463.26 L383.18 466.08 L384.33 468.86 L385.48 471.61 L386.63 474.31 L387.78 476.97 L388.93 479.59 L390.08 482.15 L391.23 484.67 L392.38 487.13 L393.53 489.53 L394.68 491.88 L395.83 494.18 L396.98 496.41 L398.13 498.58 L399.27 500.70 L400.42 502.75 L401.57 504.74 L402.72 506.67 L403.87 508.54 L405.02 510.34 L406.17 512.09 L407.32 513.77 L408.47 515.40 L409.62 516.96 L410.77 518.47 L411.92 519.91 L413.07 521.30 L414.21 522.64 L415.36 523.92 L416.51 525.14 L417.66 526.32 L418.81 527.44 L419.96 528.51 L421.11 529.54 L422.26 530.52 L423.41 531.46 L424.56 532.35 L425.71 533.20 L426.86 534.02 L428.01 534.79 L429.15 535.54 L430.30 536.24 L431.45 536.92 L432.60 537.57 L433.75 538.18 L434.90 538.77 L436.05 539.34 L437.20 539.88 L438.35 540.40 L439.50 540.90 L440.65 541.38 L441.80 541.83 L442.95 542.28 L444.09 542.70 L445.24 543.11 L446.39 543.51 L447.54 543.89 L448.69 544.26 L449.84 544.61 L450.99 544.96 L452.14 545.29 L453.29 545.62 L454.44 545.93 L455.59 546.24 L456.74 546.54 L457.89 546.82 L459.04 547.11 L460.18 547.38 L461.33 547.65 L462.48 547.91 L463.63 548.16 L464.78 548.41 L465.93 548.65 L467.08 548.88 L468.23 549.12 L469.38 549.34 L470.53 549.56 L471.68 549.78 L472.83 549.99 L473.98 550.19 L475.12 550.40 L476.27 550.59 L477.42 550.79 L478.57 550.98 L479.72 551.16 L480.87 551.35 L482.02 551.53 L483.17 551.70 L484.32 551.87 L485.47 552.04 L486.62 552.21 L487.77 552.37 L488.92 552.53 L490.06 552.69 L491.21 552.84 L492.36 552.99 L493.51 553.14 L494.66 553.28 L495.81 553.42 L496.96 553.56 L498.11 553.70 L499.26 553.84 L500.41 553.97 L501.56 554.10 L502.71 554.23 L503.86 554.35 L505.01 554.48 L506.15 554.60 L507.30 554.72 L508.45 554.83 L509.60 554.95 L510.75 555.06 L511.90 555.17 L513.05 555.28 L514.20 555.39 L515.35 555.49 L516.50 555.59 L517.65 555.69 L518.80 555.79 L519.95 555.89 L521.09 555.99 L522.24 556.08 L523.39 556.17 L524.54 556.26 L525.69 556.35 L526.84 556.44 L527.99 556.53 L529.14 556.61 L530.29 556.69 L531.44 556.77 L532.59 556.85 L533.74 556.93 L534.89 557.01 L536.03 557.08 L537.18 557.16 L538.33 557.23 L539.48 557.30 L540.63 557.37 L541.78 557.44 L542.93 557.50 L544.08 557.57 L545.23 557.63 L546.38 557.70 L547.53 557.76 L548.68 557.82 L549.83 557.88 L550.97 557.94 L552.12 558.00 L553.27 558.05 L554.42 558.11 L555.57 558.16 L556.72 558.21 L557.87 558.27 L559.02 558.32 L560.17 558.37 L561.32 558.41 L562.47 558.46 L563.62 558.51 L564.77 558.55 L565.92 558.60 L567.06 558.64 L568.21 558.69 L569.36 558.73 L570.51 558.77 L571.66 558.81 L572.81 558.85 L573.96 558.89 L575.11 558.92 L576.26 558.96 L577.41 559.00 L578.56 559.03 L579.71 559.07 L580.86 559.10 L582.00 559.13 L583.15 559.17 L584.30 559.20 L585.45 559.23 L586.60 559.26 L587.75 559.29 L588.90 559.32 L588.90 560.30 L587.75 560.30 L586.60 560.30 L585.45 560.30 L584.30 560.30 L583.15 560.30 L582.00 560.30 L580.86 560.30 L579.71 560.30 L578.56 560.30 L577.41 560.30 L576.26 560.30 L575.11 560.30 L573.96 560.30 L572.81 560.30 L571.66 560.30 L570.51 560.30 L569.36 560.30 L568.21 560.30 L567.06 560.30 L565.92 560.30 L564.77 560.30 L563.62 560.30 L562.47 560.30 L561.32 560.30 L560.17 560.30 L559.02 560.30 L557.87 560.30 L556.72 560.30 L555.57 560.30 L554.42 560.30 L553.27 560.30 L552.12 560.30 L550.97 560.30 L549.83 560.30 L548.68 560.30 L547.53 560.30 L546.38 560.30 L545.23 560.30 L544.08 560.30 L542.93 560.30 L541.78 560.30 L540.63 560.30 L539.48 560.30 L538.33 560.30 L537.18 560.30 L536.03 560.30 L534.89 560.30 L533.74 560.30 L532.59 560.30 L531.44 560.30 L530.29 560.30 L529.14 560.30 L527.99 560.30 L526.84 560.30 L525.69 560.30 L524.54 560.30 L523.39 560.30 L522.24 560.29 L521.09 560.29 L519.95 560.29 L518.80 560.29 L517.65 560.29 L516.50 560.29 L515.35 560.29 L514.20 560.29 L513.05 560.28 L511.90 560.28 L510.75 560.28 L509.60 560.27 L508.45 560.27 L507.30 560.27 L506.15 560.26 L505.01 560.26 L503.86 560.25 L502.71 560.25 L501.56 560.24 L500.41 560.23 L499.26 560.22 L498.11 560.21 L496.96 560.20 L495.81 560.19 L494.66 560.18 L493.51 560.16 L492.36 560.14 L491.21 560.13 L490.06 560.11 L488.92 560.08 L487.77 560.06 L486.62 560.03 L485.47 560.00 L484.32 559.97 L483.17 559.94 L482.02 559.90 L480.87 559.86 L479.72 559.81 L478.57 559.76 L477.42 559.71 L476.27 559.65 L475.12 559.59 L473.98 559.52 L472.83 559.45 L471.68 559.37 L470.53 559.28 L469.38 559.19 L468.23 559.09 L467.08 558.99 L465.93 558.87 L464.78 558.75 L463.63 558.62 L462.48 558.48 L461.33 558.34 L460.18 558.18 L459.04 558.01 L457.89 557.83 L456.74 557.64 L455.59 557.44 L454.44 557.23 L453.29 557.01 L452.14 556.77 L450.99 556.52 L449.84 556.26 L448.69 555.99 L447.54 555.70 L446.39 555.40 L445.24 555.09 L444.09 554.76 L442.95 554.42 L441.80 554.07 L440.65 553.70 L439.50 553.32 L438.35 552.93 L437.20 552.53 L436.05 552.11 L434.90 551.68 L433.75 551.25 L432.60 550.80 L431.45 550.34 L430.30 549.88 L429.15 549.41 L428.01 548.93 L426.86 548.45 L425.71 547.96 L424.56 547.47 L423.41 546.97 L422.26 546.47 L421.11 545.98 L419.96 545.48 L418.81 544.98 L417.66 544.48 L416.51 543.99 L415.36 543.49 L414.21 543.00 L413.07 542.51 L411.92 542.03 L410.77 541.55 L409.62 541.07 L408.47 540.60 L407.32 540.13 L406.17 539.67 L405.02 539.21 L403.87 538.75 L402.72 538.30 L401.57 537.86 L400.42 537.41 L399.27 536.98 L398.13 536.54 L396.98 536.11 L395.83 535.69 L394.68 535.26 L393.53 534.84 L392.38 534.43 L391.23 534.01 L390.08 533.60 L388.93 533.19 L387.78 532.78 L386.63 532.38 L385.48 531.97 L384.33 531.57 L383.18 531.16 L382.04 530.76 L380.89 530.35 L379.74 529.95 L378.59 529.54 L377.44 529.13 L376.29 528.72 L375.14 528.31 L373.99 527.89 L372.84 527.48 L371.69 527.05 L370.54 526.63 L369.39 526.20 L368.24 525.76 L367.10 525.32 L365.95 524.87 L364.80 524.41 L363.65 523.95 L362.50 523.48 L361.35 523.00 L360.20 522.51 Z" fill="#bebebe"/>
<g fill="none" stroke="#000" stroke-opacity="0.8" stroke-width="1.1"><path d="M360.5 554.2V567.6"/><path d="M362.5 554.2V567.6"/><path d="M363.5 554.2V567.6"/><path d="M368.5 554.2V567.6"/><path d="M369.5 554.2V567.6"/><path d="M373.5 554.2V567.6"/><path d="M374.5 554.2V567.6"/><path d="M379.5 554.2V567.6"/><path d="M383.5 554.2V567.6"/><path d="M384.5 554.2V567.6"/><path d="M388.5 554.2V567.6"/><path d="M390.5 554.2V567.6"/><path d="M391.5 554.2V567.6"/><path d="M393.5 554.2V567.6"/><path d="M394.5 554.2V567.6"/><path d="M395.5 554.2V567.6"/><path d="M396.5 554.2V567.6"/><path d="M397.5 554.2V567.6"/><path d="M400.5 554.2V567.6"/><path d="M402.5 554.2V567.6"/><path d="M405.5 554.2V567.6"/><path d="M408.5 554.2V567.6"/><path d="M409.5 554.2V567.6"/><path d="M410.5 554.2V567.6"/><path d="M411.5 554.2V567.6"/><path d="M412.5 554.2V567.6"/><path d="M413.5 554.2V567.6"/><path d="M415.5 554.2V567.6"/><path d="M416.5 554.2V567.6"/><path d="M419.5 554.2V567.6"/><path d="M421.5 554.2V567.6"/><path d="M424.5 554.2V567.6"/><path d="M425.5 554.2V567.6"/><path d="M426.5 554.2V567.6"/><path d="M429.5 554.2V567.6"/><path d="M431.5 554.2V567.6"/><path d="M433.5 554.2V567.6"/><path d="M435.5 554.2V567.6"/><path d="M436.5 554.2V567.6"/><path d="M438.5 554.2V567.6"/><path d="M439.5 554.2V567.6"/><path d="M441.5 554.2V567.6"/><path d="M448.5 554.2V567.6"/><path d="M449.5 554.2V567.6"/><path d="M455.5 554.2V567.6"/><path d="M459.5 554.2V567.6"/><path d="M463.5 554.2V567.6"/><path d="M463.5 554.2V567.6"/><path d="M474.5 554.2V567.6"/><path d="M477.5 554.2V567.6"/><path d="M488.5 554.2V567.6"/><path d="M510.5 554.2V567.6"/><path d="M511.5 554.2V567.6"/><path d="M533.5 554.2V567.6"/><path d="M562.5 554.2V567.6"/><path d="M585.5 554.2V567.6"/><path d="M588.5 554.2V567.6"/></g>
<path d="M360.20 472.77 L361.35 474.68 L362.50 476.57 L363.65 478.44 L364.80 480.28 L365.95 482.10 L367.10 483.89 L368.24 485.66 L369.39 487.40 L370.54 489.11 L371.69 490.80 L372.84 492.47 L373.99 494.11 L375.14 495.72 L376.29 497.30 L377.44 498.86 L378.59 500.39 L379.74 501.90 L380.89 503.38 L382.04 504.83 L383.18 506.26 L384.33 507.66 L385.48 509.04 L386.63 510.39 L387.78 511.71 L388.93 513.01 L390.08 514.28 L391.23 515.53 L392.38 516.76 L393.53 517.96 L394.68 519.13 L395.83 520.28 L396.98 521.41 L398.13 522.52 L399.27 523.60 L400.42 524.65 L401.57 525.69 L402.72 526.70 L403.87 527.69 L405.02 528.66 L406.17 529.61 L407.32 530.53 L408.47 531.44 L409.62 532.32 L410.77 533.18 L411.92 534.03 L413.07 534.85 L414.21 535.65 L415.36 536.44 L416.51 537.20 L417.66 537.95 L418.81 538.68 L419.96 539.39 L421.11 540.08 L422.26 540.75 L423.41 541.41 L424.56 542.05 L425.71 542.67 L426.86 543.28 L428.01 543.87 L429.15 544.44 L430.30 545.00 L431.45 545.55 L432.60 546.08 L433.75 546.59 L434.90 547.09 L436.05 547.58 L437.20 548.05 L438.35 548.50 L439.50 548.95 L440.65 549.38 L441.80 549.80 L442.95 550.20 L444.09 550.60 L445.24 550.98 L446.39 551.35 L447.54 551.71 L448.69 552.05 L449.84 552.39 L450.99 552.71 L452.14 553.03 L453.29 553.33 L454.44 553.62 L455.59 553.91 L456.74 554.18 L457.89 554.44 L459.04 554.70 L460.18 554.94 L461.33 555.18 L462.48 555.41 L463.63 555.63 L464.78 555.84 L465.93 556.05 L467.08 556.25 L468.23 556.43 L469.38 556.62 L470.53 556.79 L471.68 556.96 L472.83 557.12 L473.98 557.28 L475.12 557.43 L476.27 557.57 L477.42 557.71 L478.57 557.84 L479.72 557.96 L480.87 558.08 L482.02 558.20 L483.17 558.31 L484.32 558.41 L485.47 558.51 L486.62 558.61 L487.77 558.70 L488.92 558.79 L490.06 558.87 L491.21 558.95 L492.36 559.03 L493.51 559.10 L494.66 559.17 L495.81 559.24 L496.96 559.30 L498.11 559.36 L499.26 559.41 L500.41 559.47 L501.56 559.52 L502.71 559.56 L503.86 559.61 L505.01 559.65 L506.15 559.69 L507.30 559.73 L508.45 559.77 L509.60 559.80 L510.75 559.83 L511.90 559.86 L513.05 559.89 L514.20 559.92 L515.35 559.95 L516.50 559.97 L517.65 559.99 L518.80 560.01 L519.95 560.03 L521.09 560.05 L522.24 560.07 L523.39 560.09 L524.54 560.10 L525.69 560.12 L526.84 560.13 L527.99 560.14 L529.14 560.15 L530.29 560.16 L531.44 560.17 L532.59 560.18 L533.74 560.19 L534.89 560.20 L536.03 560.21 L537.18 560.22 L538.33 560.22 L539.48 560.23 L540.63 560.24 L541.78 560.24 L542.93 560.25 L544.08 560.25 L545.23 560.25 L546.38 560.26 L547.53 560.26 L548.68 560.26 L549.83 560.27 L550.97 560.27 L552.12 560.27 L553.27 560.28 L554.42 560.28 L555.57 560.28 L556.72 560.28 L557.87 560.28 L559.02 560.28 L560.17 560.29 L561.32 560.29 L562.47 560.29 L563.62 560.29 L564.77 560.29 L565.92 560.29 L567.06 560.29 L568.21 560.29 L569.36 560.29 L570.51 560.29 L571.66 560.30 L572.81 560.30 L573.96 560.30 L575.11 560.30 L576.26 560.30 L577.41 560.30 L578.56 560.30 L579.71 560.30 L580.86 560.30 L582.00 560.30 L583.15 560.30 L584.30 560.30 L585.45 560.30 L586.60 560.30 L587.75 560.30 L588.90 560.30" fill="none" stroke="#000" stroke-width="2.05" stroke-linejoin="round" stroke-linecap="round"/>
<rect x="351.50" y="316.95" width="245.90" height="252.65" fill="none" stroke="#333" stroke-width="1.45" stroke-linejoin="round"/>
<text x="343.2" y="566.2" text-anchor="end" font-size="14.3" textLength="19.8" lengthAdjust="spacingAndGlyphs">0.0</text>
<text x="343.2" y="519.3" text-anchor="end" font-size="14.3" textLength="19.8" lengthAdjust="spacingAndGlyphs">0.2</text>
<text x="343.2" y="472.5" text-anchor="end" font-size="14.3" textLength="19.8" lengthAdjust="spacingAndGlyphs">0.4</text>
<text x="343.2" y="425.6" text-anchor="end" font-size="14.3" textLength="19.8" lengthAdjust="spacingAndGlyphs">0.6</text>
<text x="343.2" y="378.8" text-anchor="end" font-size="14.3" textLength="19.8" lengthAdjust="spacingAndGlyphs">0.8</text>
<text x="343.2" y="332.0" text-anchor="end" font-size="14.3" textLength="19.8" lengthAdjust="spacingAndGlyphs">1.0</text>
<text x="374.8" y="592.7" text-anchor="middle" font-size="14.3" textLength="12.7" lengthAdjust="spacingAndGlyphs">-1</text>
<text x="422.4" y="592.7" text-anchor="middle" font-size="14.3" textLength="7.9" lengthAdjust="spacingAndGlyphs">0</text>
<text x="469.1" y="592.7" text-anchor="middle" font-size="14.3" textLength="7.9" lengthAdjust="spacingAndGlyphs">1</text>
<text x="515.9" y="592.7" text-anchor="middle" font-size="14.3" textLength="7.9" lengthAdjust="spacingAndGlyphs">2</text>
<text x="562.6" y="592.7" text-anchor="middle" font-size="14.3" textLength="7.9" lengthAdjust="spacingAndGlyphs">3</text>
<path d="M351.50 560.57H343.00M351.50 513.73H343.00M351.50 466.89H343.00M351.50 420.05H343.00M351.50 373.21H343.00M351.50 326.37H343.00M375.95 569.60V579.20M422.70 569.60V579.20M469.45 569.60V579.20M516.20 569.60V579.20M562.95 569.60V579.20" fill="none" stroke="#2b2b2b" stroke-width="1.05"/>
<text x="474.8" y="612.2" text-anchor="middle" font-size="14.3" textLength="103.0" lengthAdjust="spacingAndGlyphs">Subsection area</text>
<text x="313.6" y="443.6" text-anchor="middle" font-size="14.3" textLength="60.2" lengthAdjust="spacingAndGlyphs" transform="rotate(-90 313.6 443.6)">Detection</text>
<text x="591.3" y="338.6" text-anchor="end" font-size="13.9" style="stroke-width:0.15px" textLength="17.0" lengthAdjust="spacingAndGlyphs">(d)</text>
</svg>
</body></html>
